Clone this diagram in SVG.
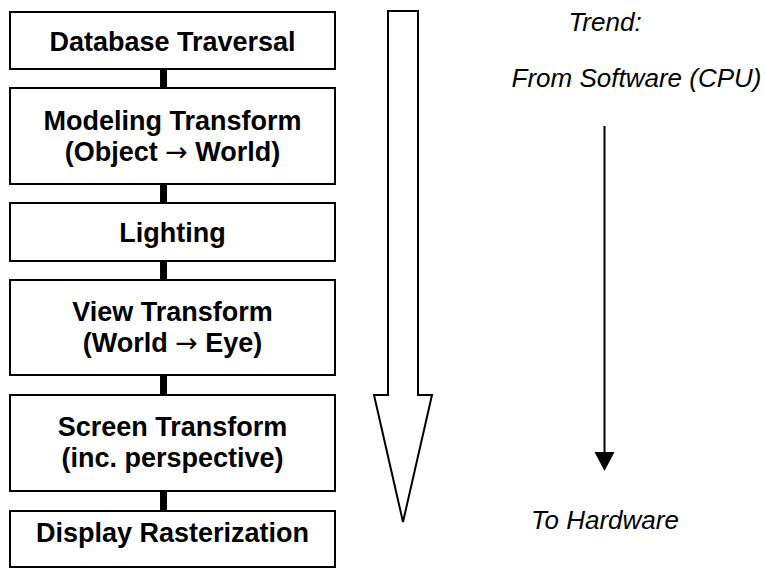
<svg xmlns="http://www.w3.org/2000/svg" width="765" height="568" viewBox="0 0 765 568">
<style>
.box{fill:#fff;stroke:#000;stroke-width:2}
.lbl{font-family:"Liberation Sans",Arial,sans-serif;font-weight:bold;font-size:27px;text-anchor:middle;fill:#000}
.ar{font-family:"DejaVu Sans",sans-serif;font-weight:normal}
.it{font-family:"Liberation Sans",Arial,sans-serif;font-style:italic;font-size:26px;text-anchor:middle;fill:#000}
.conn{stroke:#000;stroke-width:7}
</style>
<rect width="765" height="568" fill="#fff"/>
<g id="connectors">
<line class="conn" x1="163.5" y1="69" x2="163.5" y2="88"/>
<line class="conn" x1="163.5" y1="184" x2="163.5" y2="203"/>
<line class="conn" x1="163.5" y1="261" x2="163.5" y2="280"/>
<line class="conn" x1="163.5" y1="375" x2="163.5" y2="395"/>
<line class="conn" x1="163.5" y1="491" x2="163.5" y2="511"/>
</g>
<g id="n1"><rect class="box" x="10" y="12" width="325" height="57"/><text class="lbl" x="172.5" y="51">Database Traversal</text></g>
<g id="n2"><rect class="box" x="10" y="88" width="325" height="96"/><text class="lbl" x="172.5" y="130">Modeling Transform</text><text class="lbl" x="172.5" y="161">(Object <tspan class="ar">→</tspan> World)</text></g>
<g id="n3"><rect class="box" x="10" y="203" width="325" height="58"/><text class="lbl" x="172.5" y="242">Lighting</text></g>
<g id="n4"><rect class="box" x="10" y="280" width="325" height="95"/><text class="lbl" x="172.5" y="321">View Transform</text><text class="lbl" x="172.5" y="352">(World <tspan class="ar">→</tspan> Eye)</text></g>
<g id="n5"><rect class="box" x="10" y="395" width="325" height="96"/><text class="lbl" x="172.5" y="436">Screen Transform</text><text class="lbl" x="172.5" y="467">(inc. perspective)</text></g>
<g id="n6"><rect class="box" x="10" y="511" width="325" height="56"/><text class="lbl" x="172.5" y="542">Display Rasterization</text></g>
<g id="bigarrow"><polygon points="388,11 418,11 418,395 432,395 403,522 374,395 388,395" fill="#fff" stroke="#000" stroke-width="2"/></g>
<g id="trend">
<text class="it" x="605" y="31">Trend:</text>
<text class="it" x="636.5" y="87">From Software (CPU)</text>
<line x1="604.5" y1="126" x2="604.5" y2="454" stroke="#000" stroke-width="2"/>
<polygon points="594.5,452 614.5,452 604.5,471" fill="#000"/>
<text class="it" x="605" y="529">To Hardware</text>
</g>
</svg>
